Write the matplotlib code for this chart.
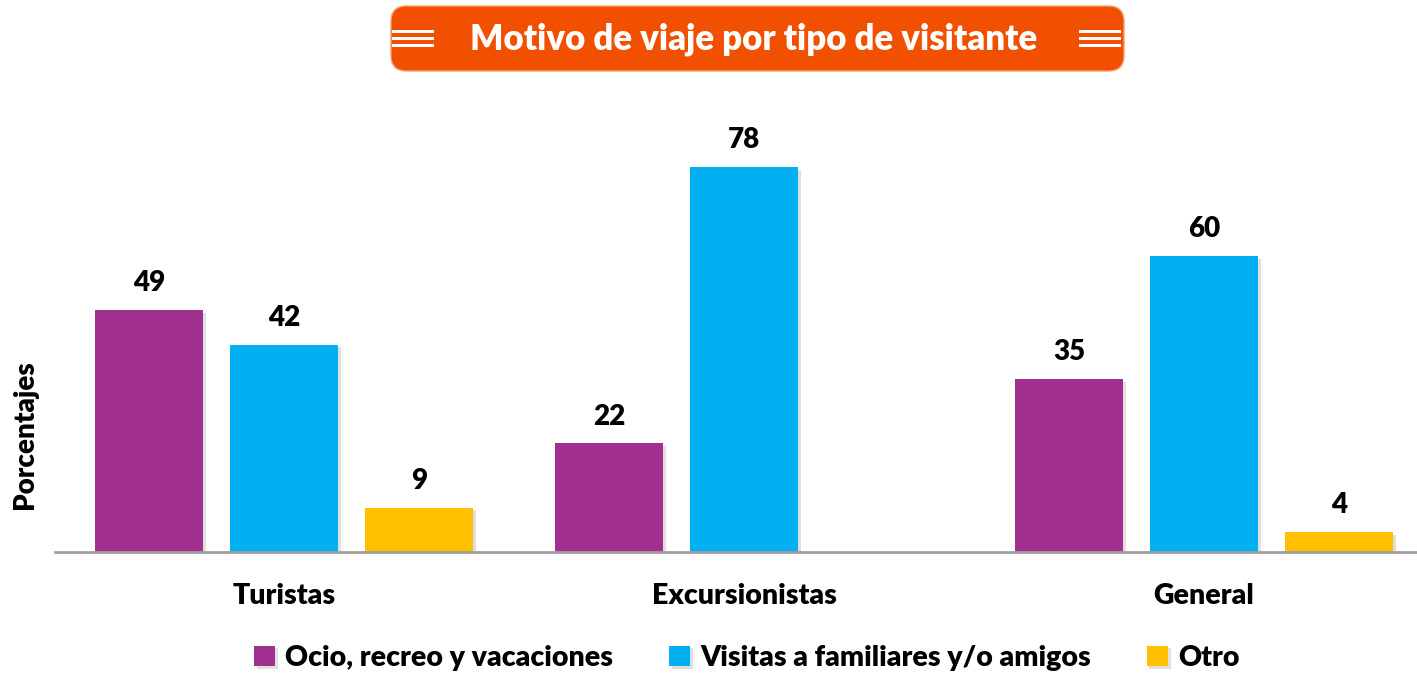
import matplotlib
matplotlib.use("Agg")
from matplotlib import pyplot as plt
from matplotlib.patches import FancyBboxPatch, Rectangle
import matplotlib.patheffects as pe
import numpy as np

plt.rcParams['font.family'] = ['Lato', 'DejaVu Sans']
peso = "heavy"

categorias = ["Turistas", "Excursionistas", "General"]
ocio = [49, 22, 35]
visitas = [42, 78, 60]
otro = [9, None, 4]
series_nombres = ["Ocio, recreo y vacaciones", "Visitas a familiares y/o amigos", "Otro"]
colores = ["#A12F8E", "#00B0F0", "#FFC000"]

fig = plt.figure(figsize=(14.17, 6.73), dpi=100)
ax = fig.add_axes([55 / 1417, 1 - 552 / 673, 1 - 55 / 1417, 470 / 673])

x = np.arange(len(categorias))
paso = 0.293
ancho = 0.235
sombra = [pe.SimplePatchShadow(offset=(2, -2), alpha=0.25, shadow_rgbFace="gray"), pe.Normal()]

for i, (vals, nombre, color) in enumerate(zip([ocio, visitas, otro], series_nombres, colores)):
    xs = [xi + (i - 1) * paso for xi, v in zip(x, vals) if v is not None]
    hs = [v for v in vals if v is not None]
    barras = ax.bar(xs, hs, width=ancho, color=color, label=nombre, zorder=2)
    for b in barras:
        b.set_path_effects(sombra)
        ax.annotate(str(int(b.get_height())), (b.get_x() + b.get_width() / 2, b.get_height()),
                    xytext=(0, 10), textcoords="offset points", ha="center", va="bottom",
                    fontsize=20, fontweight=peso)

ax.set_xlim(-0.498, 2.463)
ax.set_ylim(0, 470 / 4.936)
for s in ["top", "right", "left"]:
    ax.spines[s].set_visible(False)
ax.spines["bottom"].set_color("#A0A0A0")
ax.spines["bottom"].set_linewidth(2)
ax.set_yticks([])
ax.set_xticks(x)
ax.set_xticklabels(categorias, fontsize=20.5, fontweight=peso)
ax.tick_params(axis="x", length=0, pad=22)

fig.text(25 / 1417, 1 - 435 / 673, "Porcentajes", rotation=90, ha="center", va="center",
         fontsize=20, fontweight=peso)

# caja del titulo
caja = FancyBboxPatch((391 / 1417, 1 - 71 / 673), 733 / 1417, 65 / 673,
                      boxstyle="round,pad=0,rounding_size=0.011", transform=fig.transFigure,
                      facecolor="#F05000", edgecolor="#F5A070", linewidth=1, mutation_aspect=1417 / 673)
fig.patches.append(caja)
for x0 in [392, 1079]:
    for yy in [31, 38, 45]:
        fig.patches.append(Rectangle((x0 / 1417, 1 - (yy + 2) / 673), 42 / 1417, 3 / 673,
                                     transform=fig.transFigure, facecolor="white", edgecolor="none"))
fig.text(754 / 1417, 1 - 39 / 673, "Motivo de viaje por tipo de visitante", ha="center", va="center",
         fontsize=25, fontweight=peso, color="white")

fig.legend(loc="center", bbox_to_anchor=(0.527, 1 - 658 / 673), ncol=3, frameon=False,
           prop={"weight": peso, "size": 20.5}, handlelength=0.75, handleheight=0.75,
           handletextpad=0.35, columnspacing=1.95)

fig.savefig("out.png", dpi=100)
